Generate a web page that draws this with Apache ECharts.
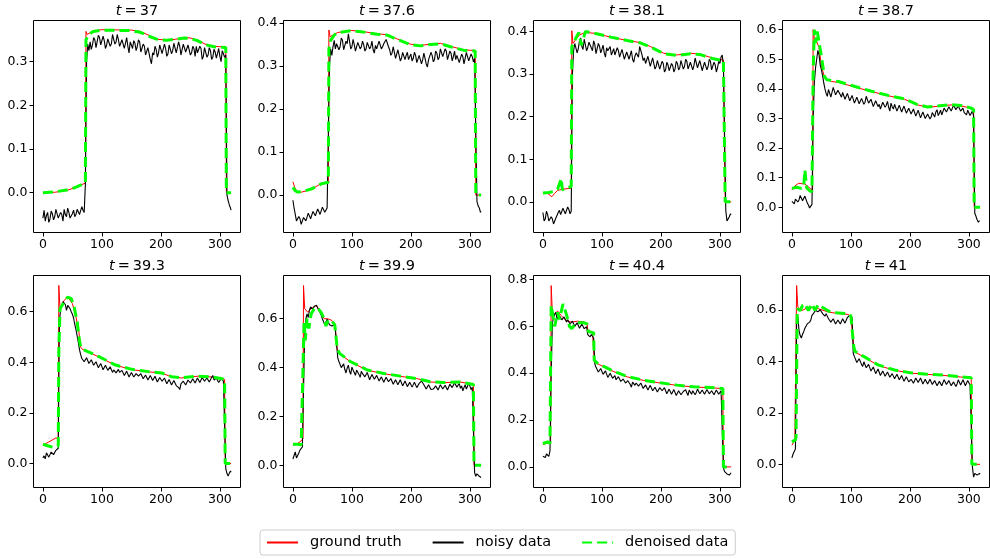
<!DOCTYPE html>
<html><head><meta charset="utf-8">
<script src="https://cdn.jsdelivr.net/npm/echarts@6/dist/echarts.min.js"></script>
<style>html,body{margin:0;padding:0;background:#fff}#c{width:990px;height:559px}</style>
</head><body><div id="c"></div>
<script>
// ---------------- data ----------------
const times = ['37', '37.6', '38.1', '38.7', '39.3', '39.9', '40.4', '41'];
const seriesNames = ['ground truth', 'noisy data', 'denoised data'];
const xTicks = [0, 100, 200, 300];
const xLimits = [-15.95, 334.95];
const yLimits = [[-0.091, 0.394], [-0.087, 0.406], [-0.072, 0.426], [-0.085, 0.631],
                 [-0.095, 0.743], [-0.091, 0.777], [-0.088, 0.817], [-0.090, 0.733]];
const yTicks = [[0, 0.1, 0.2, 0.3], [0, 0.1, 0.2, 0.3, 0.4], [0, 0.1, 0.2, 0.3, 0.4],
                [0, 0.1, 0.2, 0.3, 0.4, 0.5, 0.6], [0, 0.2, 0.4, 0.6], [0, 0.2, 0.4, 0.6],
                [0, 0.2, 0.4, 0.6, 0.8], [0, 0.2, 0.4, 0.6]];
const noisyStep = 2;   // noisy samples every 2 x-units, last one at 319
const noisyLastX = 319;

// t = 37
const truth_37 = [[0,0.000],[20,0.001],[40,0.005],[55,0.012],[65,0.018],[72,0.022],[73,0.369],[75,0.362],[80,0.366],[90,0.371],[100,0.373],[150,0.372],[165,0.369],[180,0.360],[195,0.351],[210,0.349],[225,0.351],[240,0.355],[250,0.354],[262,0.349],[275,0.340],[290,0.335],[310,0.333],[311,0.000],[319,0.000]];
const denoised_37 = [[0,0.000],[20,0.002],[40,0.006],[55,0.012],[65,0.018],[72,0.022],[73,0.350],[78,0.362],[85,0.369],[100,0.372],[150,0.371],[165,0.367],[180,0.358],[195,0.350],[210,0.349],[225,0.351],[240,0.354],[250,0.353],[262,0.348],[275,0.339],[290,0.334],[310,0.332],[311,0.000],[319,0.000]];
const noisy_37 = [
 -0.058,-0.040,-0.065,-0.052,-0.045,-0.068,-0.060,-0.042,-0.048,-0.062,-0.055,-0.038,-0.042,-0.058,-0.060,-0.045,-0.050,-0.065,-0.038,-0.050,
 -0.055,-0.035,-0.045,-0.058,-0.060,-0.048,-0.040,-0.055,-0.050,-0.038,-0.035,-0.050,-0.048,-0.032,-0.040,-0.045,0.020,0.300,0.340,0.325,
 0.345,0.328,0.338,0.355,0.350,0.332,0.335,0.360,0.355,0.338,0.342,0.358,0.348,0.330,0.338,0.352,0.352,0.335,0.340,0.362,
 0.358,0.340,0.345,0.362,0.350,0.335,0.332,0.350,0.348,0.330,0.342,0.355,0.335,0.320,0.345,0.338,0.330,0.348,0.342,0.325,
 0.335,0.350,0.345,0.322,0.325,0.340,0.335,0.315,0.318,0.332,0.330,0.305,0.295,0.320,0.315,0.335,0.328,0.310,0.320,0.338,
 0.335,0.318,0.322,0.340,0.330,0.312,0.318,0.338,0.335,0.318,0.325,0.342,0.340,0.320,0.322,0.345,0.335,0.315,0.328,0.340,
 0.342,0.322,0.325,0.338,0.335,0.315,0.320,0.335,0.330,0.312,0.335,0.320,0.318,0.335,0.330,0.305,0.312,0.332,0.328,0.310,
 0.315,0.332,0.325,0.305,0.310,0.328,0.322,0.308,0.318,0.330,0.312,0.300,0.325,0.318,0.310,0.315,-0.005,-0.018,-0.028,-0.035,
 -0.040];

// t = 37.6
const truth_376 = [[0,0.031],[3,0.018],[8,0.006],[15,0.007],[31,0.013],[48,0.027],[60,0.030],[61,0.384],[63,0.368],[70,0.374],[76,0.378],[98,0.383],[120,0.380],[143,0.375],[160,0.373],[177,0.363],[199,0.351],[216,0.348],[233,0.351],[250,0.353],[267,0.346],[289,0.338],[309,0.336],[310,0.000],[319,0.000]];
const denoised_376 = [[0,0.018],[4,0.010],[8,0.007],[15,0.008],[31,0.014],[48,0.026],[60,0.030],[61,0.340],[64,0.360],[70,0.372],[76,0.378],[98,0.382],[120,0.379],[143,0.374],[160,0.372],[177,0.362],[199,0.350],[216,0.347],[233,0.350],[250,0.352],[267,0.345],[289,0.337],[309,0.335],[310,0.000],[319,0.000]];
const noisy_376 = [
 -0.012,-0.030,-0.045,-0.060,-0.062,-0.050,-0.055,-0.068,-0.065,-0.052,-0.050,-0.060,-0.058,-0.042,-0.045,-0.055,-0.052,-0.038,-0.040,-0.048,
 -0.048,-0.032,-0.035,-0.045,-0.042,-0.028,-0.030,-0.040,-0.038,-0.030,-0.032,0.300,0.340,0.325,0.345,0.360,0.340,0.352,0.355,0.338,
 0.345,0.365,0.360,0.338,0.340,0.358,0.352,0.375,0.372,0.340,0.345,0.362,0.350,0.335,0.338,0.355,0.355,0.340,0.345,0.358,
 0.350,0.335,0.340,0.355,0.352,0.340,0.345,0.358,0.338,0.330,0.348,0.340,0.342,0.358,0.355,0.340,0.345,0.352,0.350,0.362,
 0.365,0.345,0.338,0.325,0.330,0.345,0.342,0.318,0.322,0.338,0.335,0.312,0.318,0.332,0.330,0.315,0.325,0.332,0.315,0.322,
 0.328,0.312,0.318,0.332,0.325,0.308,0.310,0.325,0.322,0.305,0.315,0.330,0.328,0.305,0.298,0.315,0.318,0.332,0.325,0.310,
 0.315,0.335,0.330,0.315,0.320,0.340,0.338,0.322,0.325,0.340,0.335,0.315,0.318,0.335,0.330,0.312,0.322,0.335,0.315,0.325,
 0.325,0.308,0.312,0.328,0.322,0.305,0.318,0.332,0.330,0.312,0.315,0.328,0.322,0.310,0.318,0.320,-0.015,-0.025,-0.030,-0.040,
 -0.038];

// t = 38.1
const truth_381 = [[0,0.020],[8,0.020],[15,0.012],[20,0.020],[25,0.027],[35,0.030],[48,0.032],[49,0.402],[51,0.372],[55,0.380],[62,0.392],[72,0.398],[87,0.396],[115,0.387],[143,0.379],[166,0.374],[182,0.365],[205,0.349],[227,0.345],[250,0.349],[267,0.347],[289,0.337],[306,0.333],[309,0.000],[319,0.000]];
const denoised_381 = [[0,0.021],[10,0.022],[20,0.025],[25,0.030],[30,0.050],[31,0.055],[33,0.028],[40,0.032],[48,0.036],[49,0.365],[52,0.372],[56,0.385],[61,0.398],[65,0.368],[70,0.390],[72,0.400],[80,0.398],[87,0.396],[115,0.387],[143,0.379],[166,0.373],[182,0.364],[205,0.348],[227,0.344],[250,0.348],[267,0.346],[289,0.336],[306,0.332],[309,0.000],[319,0.000]];
const noisy_381 = [
 -0.025,-0.045,-0.040,-0.022,-0.030,-0.045,-0.048,-0.035,-0.040,-0.052,-0.050,-0.038,-0.042,-0.025,-0.020,-0.030,-0.028,-0.015,-0.015,-0.028,
 -0.025,-0.012,-0.018,-0.028,-0.022,0.300,0.355,0.372,0.368,0.350,0.360,0.378,0.385,0.365,0.358,0.382,0.378,0.355,0.362,0.375,
 0.375,0.362,0.355,0.378,0.370,0.348,0.352,0.372,0.365,0.350,0.358,0.368,0.350,0.340,0.362,0.355,0.355,0.365,0.345,0.352,
 0.360,0.345,0.348,0.362,0.355,0.340,0.342,0.358,0.356,0.335,0.338,0.352,0.350,0.335,0.345,0.355,0.335,0.328,0.342,0.350,
 0.350,0.340,0.365,0.355,0.345,0.332,0.338,0.325,0.328,0.342,0.340,0.318,0.322,0.338,0.335,0.312,0.318,0.332,0.330,0.312,
 0.315,0.330,0.325,0.305,0.310,0.328,0.322,0.308,0.306,0.325,0.320,0.305,0.312,0.330,0.325,0.310,0.315,0.332,0.328,0.312,
 0.318,0.335,0.330,0.312,0.312,0.328,0.325,0.310,0.320,0.338,0.335,0.315,0.318,0.332,0.330,0.308,0.312,0.328,0.325,0.310,
 0.318,0.335,0.330,0.310,0.312,0.328,0.322,0.305,0.315,0.330,0.325,0.340,0.345,0.318,0.320,-0.020,-0.045,-0.040,-0.035,-0.028,
 -0.030];

// t = 38.7
const truth_387 = [[0,0.059],[5,0.072],[11,0.081],[22,0.079],[31,0.064],[35,0.059],[36,0.600],[38,0.570],[42,0.560],[46,0.540],[50,0.476],[56,0.436],[67,0.425],[79,0.422],[107,0.406],[135,0.391],[163,0.377],[191,0.365],[213,0.346],[230,0.338],[247,0.341],[270,0.346],[286,0.343],[303,0.335],[308,0.329],[309,0.000],[319,0.000]];
const denoised_387 = [[0,0.064],[8,0.068],[16,0.064],[20,0.070],[22,0.126],[25,0.066],[30,0.056],[34,0.053],[36,0.450],[38,0.600],[40,0.555],[43,0.594],[46,0.590],[50,0.510],[55,0.442],[59,0.431],[79,0.425],[107,0.408],[135,0.392],[163,0.378],[191,0.366],[213,0.347],[230,0.339],[247,0.342],[270,0.347],[286,0.344],[303,0.336],[308,0.330],[309,0.000],[319,0.000]];
const noisy_387 = [
 0.020,0.015,0.012,0.028,0.030,0.018,0.025,0.040,0.038,0.022,0.028,0.038,0.035,0.015,0.008,-0.002,0.003,0.010,0.300,0.420,
 0.470,0.500,0.530,0.515,0.480,0.465,0.445,0.420,0.400,0.385,0.375,0.398,0.395,0.372,0.378,0.405,0.402,0.380,0.385,0.395,
 0.395,0.380,0.372,0.388,0.385,0.365,0.368,0.385,0.380,0.360,0.362,0.378,0.375,0.352,0.358,0.372,0.370,0.350,0.352,0.368,
 0.368,0.348,0.355,0.375,0.372,0.352,0.350,0.365,0.362,0.340,0.345,0.360,0.358,0.340,0.348,0.332,0.335,0.355,0.352,0.338,
 0.345,0.358,0.338,0.325,0.352,0.340,0.332,0.348,0.345,0.325,0.328,0.345,0.342,0.322,0.325,0.342,0.340,0.318,0.322,0.335,
 0.335,0.315,0.318,0.332,0.328,0.308,0.312,0.328,0.325,0.302,0.305,0.322,0.318,0.300,0.295,0.315,0.310,0.298,0.305,0.320,
 0.315,0.305,0.322,0.330,0.310,0.318,0.328,0.312,0.318,0.335,0.335,0.322,0.325,0.340,0.338,0.325,0.328,0.345,0.342,0.330,
 0.330,0.342,0.338,0.325,0.325,0.335,0.320,0.315,0.312,0.328,0.325,0.310,0.315,0.325,0.308,-0.020,-0.030,-0.042,-0.050,-0.045,
 -0.048];

// t = 39.3
const truth_393 = [[0,0.072],[10,0.085],[22,0.101],[26,0.097],[27,0.704],[29,0.612],[36,0.645],[42,0.658],[50,0.632],[56,0.579],[61,0.520],[64,0.460],[67,0.451],[95,0.421],[123,0.388],[151,0.371],[179,0.362],[201,0.358],[218,0.342],[235,0.338],[263,0.345],[285,0.342],[302,0.336],[308,0.332],[309,0.000],[319,0.000]];
const denoised_393 = [[0,0.076],[8,0.070],[14,0.066],[22,0.064],[26,0.070],[27,0.450],[29,0.612],[36,0.638],[42,0.658],[48,0.652],[53,0.618],[58,0.560],[62,0.487],[64,0.460],[67,0.452],[95,0.422],[123,0.389],[151,0.372],[179,0.363],[201,0.358],[218,0.343],[235,0.339],[263,0.345],[285,0.342],[302,0.336],[308,0.332],[309,0.000],[319,0.000]];
const noisy_393 = [
 0.022,0.030,0.018,0.042,0.040,0.025,0.028,0.045,0.042,0.035,0.035,0.052,0.055,0.060,0.560,0.610,0.625,0.640,0.640,0.628,
 0.605,0.625,0.630,0.612,0.600,0.590,0.575,0.550,0.530,0.505,0.480,0.450,0.430,0.415,0.418,0.402,0.405,0.418,0.412,0.395,
 0.398,0.410,0.405,0.388,0.385,0.402,0.398,0.378,0.380,0.395,0.392,0.370,0.372,0.388,0.385,0.368,0.365,0.382,0.378,0.360,
 0.370,0.375,0.358,0.352,0.372,0.360,0.355,0.368,0.365,0.348,0.350,0.365,0.362,0.342,0.345,0.360,0.358,0.342,0.348,0.355,
 0.355,0.345,0.340,0.355,0.352,0.335,0.338,0.350,0.348,0.330,0.335,0.348,0.345,0.328,0.330,0.345,0.342,0.322,0.325,0.340,
 0.338,0.325,0.322,0.338,0.335,0.315,0.318,0.332,0.330,0.310,0.312,0.328,0.325,0.308,0.315,0.300,0.292,0.315,0.312,0.325,
 0.325,0.310,0.315,0.330,0.330,0.318,0.318,0.335,0.332,0.318,0.322,0.338,0.335,0.320,0.325,0.340,0.338,0.325,0.330,0.338,
 0.335,0.322,0.328,0.340,0.348,0.330,0.325,0.338,0.332,0.320,0.318,0.335,0.330,0.325,0.320,-0.020,-0.040,-0.050,-0.038,-0.030,
 -0.035];

// t = 39.9
const truth_399 = [[0,0.082],[8,0.089],[14,0.100],[17,0.109],[18,0.736],[20,0.641],[25,0.627],[31,0.641],[39,0.655],[45,0.634],[53,0.600],[59,0.600],[66,0.593],[71,0.580],[75,0.477],[79,0.457],[98,0.423],[126,0.389],[154,0.375],[182,0.364],[210,0.355],[233,0.341],[255,0.338],[283,0.341],[306,0.331],[307,0.000],[319,0.000]];
const denoised_399 = [[0,0.086],[8,0.086],[14,0.084],[17,0.090],[19,0.593],[21,0.511],[24,0.600],[27,0.560],[31,0.620],[36,0.640],[42,0.645],[48,0.625],[53,0.600],[56,0.570],[60,0.595],[66,0.590],[71,0.575],[75,0.480],[79,0.458],[98,0.424],[126,0.390],[154,0.376],[182,0.365],[210,0.355],[233,0.342],[255,0.339],[283,0.341],[306,0.331],[307,0.000],[319,0.000]];
const noisy_399 = [
 0.025,0.040,0.055,0.030,0.035,0.050,0.062,0.070,0.075,0.080,0.540,0.600,0.620,0.605,0.635,0.648,0.645,0.638,0.650,0.642,
 0.655,0.648,0.635,0.625,0.615,0.600,0.595,0.575,0.572,0.598,0.590,0.575,0.582,0.570,0.565,0.575,0.555,0.550,0.440,0.425,
 0.420,0.400,0.405,0.415,0.392,0.378,0.398,0.410,0.385,0.372,0.402,0.390,0.380,0.368,0.390,0.395,0.372,0.360,0.385,0.375,
 0.378,0.362,0.365,0.380,0.372,0.350,0.358,0.372,0.368,0.352,0.355,0.368,0.362,0.345,0.348,0.362,0.358,0.340,0.345,0.360,
 0.355,0.342,0.340,0.355,0.352,0.332,0.335,0.350,0.348,0.330,0.338,0.350,0.345,0.325,0.330,0.345,0.342,0.322,0.328,0.340,
 0.338,0.320,0.325,0.340,0.335,0.318,0.322,0.335,0.332,0.345,0.350,0.330,0.328,0.312,0.315,0.330,0.325,0.310,0.318,0.312,
 0.310,0.325,0.322,0.308,0.315,0.330,0.328,0.312,0.318,0.328,0.325,0.308,0.315,0.332,0.332,0.318,0.320,0.338,0.335,0.320,
 0.322,0.335,0.315,0.325,0.305,0.318,0.330,0.312,0.318,0.335,0.325,0.310,0.320,0.318,-0.030,-0.045,-0.035,-0.040,-0.045,-0.052,
 -0.050];

// t = 40.4
const truth_404 = [[0,0.095],[8,0.102],[13,0.104],[14,0.774],[16,0.660],[20,0.654],[25,0.665],[31,0.646],[39,0.625],[48,0.618],[59,0.622],[70,0.618],[75,0.612],[76,0.583],[84,0.576],[86,0.570],[87,0.455],[93,0.440],[115,0.412],[143,0.384],[171,0.369],[199,0.358],[227,0.348],[255,0.341],[284,0.338],[305,0.334],[306,0.000],[319,0.000]];
const denoised_404 = [[0,0.100],[3,0.098],[8,0.107],[12,0.100],[14,0.689],[20,0.600],[25,0.660],[28,0.630],[34,0.695],[40,0.650],[45,0.600],[49,0.590],[56,0.615],[70,0.615],[75,0.610],[77,0.578],[86,0.572],[87,0.455],[93,0.442],[115,0.414],[143,0.386],[171,0.370],[199,0.359],[227,0.349],[255,0.342],[284,0.339],[305,0.335],[306,0.000],[319,0.000]];
const noisy_404 = [
 0.045,0.038,0.040,0.055,0.052,0.045,0.068,0.400,0.610,0.640,0.650,0.660,0.632,0.625,0.645,0.650,0.628,0.620,0.640,0.632,
 0.618,0.628,0.625,0.610,0.610,0.622,0.620,0.600,0.602,0.615,0.610,0.592,0.595,0.610,0.608,0.590,0.592,0.598,0.565,0.558,
 0.555,0.565,0.562,0.550,0.440,0.425,0.418,0.405,0.405,0.420,0.412,0.395,0.392,0.410,0.405,0.382,0.385,0.400,0.398,0.378,
 0.380,0.390,0.372,0.365,0.385,0.375,0.365,0.358,0.375,0.370,0.358,0.352,0.368,0.362,0.352,0.340,0.362,0.355,0.348,0.358,
 0.355,0.345,0.342,0.358,0.352,0.335,0.338,0.350,0.348,0.328,0.335,0.348,0.345,0.325,0.330,0.340,0.342,0.320,0.325,0.338,
 0.338,0.325,0.322,0.338,0.335,0.312,0.318,0.332,0.330,0.310,0.315,0.330,0.328,0.305,0.312,0.325,0.325,0.308,0.305,0.322,
 0.322,0.330,0.315,0.305,0.328,0.320,0.310,0.325,0.325,0.308,0.318,0.332,0.330,0.312,0.315,0.328,0.325,0.310,0.318,0.330,
 0.328,0.312,0.315,0.325,0.322,0.308,0.312,0.328,0.325,0.310,0.318,0.325,0.320,-0.005,-0.020,-0.028,-0.030,-0.038,-0.035,-0.028,
 -0.025];

// t = 41
const truth_41 = [[0,0.074],[3,0.085],[5,0.095],[7,0.100],[8,0.694],[10,0.610],[17,0.597],[28,0.610],[45,0.604],[62,0.591],[79,0.585],[95,0.582],[100,0.575],[103,0.500],[105,0.455],[107,0.436],[123,0.416],[146,0.384],[174,0.365],[202,0.354],[230,0.349],[258,0.345],[286,0.339],[304,0.335],[305,0.000],[319,0.000]];
const denoised_41 = [[0,0.087],[3,0.090],[6,0.095],[7,0.105],[9,0.604],[14,0.597],[18,0.617],[22,0.623],[28,0.597],[34,0.623],[39,0.598],[45,0.620],[53,0.608],[62,0.595],[79,0.587],[97,0.584],[100,0.575],[103,0.500],[105,0.455],[107,0.438],[123,0.417],[146,0.386],[174,0.366],[202,0.355],[230,0.350],[258,0.346],[286,0.340],[304,0.336],[305,0.000],[319,0.000]];
const noisy_41 = [
 0.025,0.040,0.050,0.060,0.560,0.575,0.520,0.500,0.490,0.505,0.515,0.528,0.535,0.545,0.545,0.552,0.560,0.578,0.585,0.590,
 0.598,0.605,0.592,0.588,0.600,0.595,0.585,0.578,0.575,0.585,0.580,0.565,0.568,0.552,0.555,0.565,0.560,0.545,0.548,0.560,
 0.558,0.545,0.550,0.565,0.562,0.548,0.555,0.570,0.568,0.578,0.575,0.570,0.430,0.418,0.412,0.395,0.395,0.410,0.405,0.388,
 0.380,0.398,0.392,0.375,0.372,0.388,0.385,0.362,0.365,0.378,0.375,0.352,0.355,0.370,0.368,0.345,0.348,0.362,0.360,0.342,
 0.345,0.358,0.355,0.338,0.340,0.352,0.350,0.332,0.335,0.350,0.348,0.328,0.330,0.345,0.342,0.322,0.325,0.340,0.338,0.320,
 0.322,0.330,0.335,0.315,0.318,0.335,0.332,0.318,0.320,0.335,0.330,0.312,0.315,0.330,0.328,0.312,0.318,0.330,0.325,0.310,
 0.312,0.325,0.322,0.305,0.308,0.322,0.320,0.305,0.312,0.328,0.325,0.310,0.315,0.325,0.322,0.305,0.308,0.320,0.318,0.302,
 0.312,0.328,0.325,0.308,0.315,0.328,0.322,0.305,0.310,0.325,0.320,0.308,0.312,-0.010,-0.050,-0.035,-0.030,-0.042,-0.045,-0.035,
 -0.038];

const truths = [truth_37, truth_376, truth_381, truth_387, truth_393, truth_399, truth_404, truth_41];
const noisies = [noisy_37, noisy_376, noisy_381, noisy_387, noisy_393, noisy_399, noisy_404, noisy_41];
const denoiseds = [denoised_37, denoised_376, denoised_381, denoised_387, denoised_393, denoised_399, denoised_404, denoised_41];

// ---------------- layout / style ----------------
const FONT = 'DejaVu Sans';
const lefts = [33.5, 283.5, 533.5, 782.5];
const tops = [20.5, 275.5];
const W = 207, H = 212;
const titleY = [11, 266];

const grids = [], xAxes = [], yAxes = [], series = [], graphics = [];
times.forEach((t, i) => {
  const col = i % 4, row = Math.floor(i / 4);
  grids.push({left: lefts[col], top: tops[row], width: W, height: H, show: true,
              borderColor: '#000', borderWidth: 1, backgroundColor: 'transparent', containLabel: false});
  xAxes.push({type: 'value', gridIndex: i, min: xLimits[0], max: xLimits[1],
    axisLine: {show: false, onZero: false},
    axisTick: {show: true, length: 4, customValues: xTicks, lineStyle: {color: '#000', width: 1}},
    axisLabel: {show: true, customValues: xTicks, margin: 6, fontSize: 12.5, fontFamily: FONT, color: '#000',
                formatter: v => String(Math.round(v))},
    splitLine: {show: false}});
  yAxes.push({type: 'value', gridIndex: i, min: yLimits[i][0], max: yLimits[i][1],
    axisLine: {show: false, onZero: false},
    axisTick: {show: true, length: 4, customValues: yTicks[i], lineStyle: {color: '#000', width: 1}},
    axisLabel: {show: true, customValues: yTicks[i], margin: 6, fontSize: 12.5, fontFamily: FONT, color: '#000',
                formatter: v => v.toFixed(1)},
    splitLine: {show: false}});
  const noisyData = noisies[i].map((y, k) => [Math.min(k * noisyStep, noisyLastX), y]);
  series.push({type: 'line', name: seriesNames[0], xAxisIndex: i, yAxisIndex: i, data: truths[i],
    symbol: 'none', showSymbol: false, silent: true, z: 2,
    lineStyle: {color: '#ff0000', width: 1}, itemStyle: {color: '#ff0000'}});
  series.push({type: 'line', name: seriesNames[1], xAxisIndex: i, yAxisIndex: i, data: noisyData,
    symbol: 'none', showSymbol: false, silent: true, z: 3,
    lineStyle: {color: '#000000', width: 1.1}, itemStyle: {color: '#000000'}});
  series.push({type: 'line', name: seriesNames[2], xAxisIndex: i, yAxisIndex: i, data: denoiseds[i],
    symbol: 'none', showSymbol: false, silent: true, z: 4,
    lineStyle: {color: '#00ff00', width: 3, type: [10, 5]}, itemStyle: {color: '#00ff00'}});
  graphics.push({type: 'text', x: lefts[col] + W / 2, y: titleY[row], silent: true,
    style: {text: '{i|t}{e|=}{n|' + t + '}', align: 'center', verticalAlign: 'middle',
      fontSize: 14.5, fontFamily: FONT, fill: '#000',
      rich: {i: {fontStyle: 'italic', fontSize: 14.5, fontFamily: FONT, fill: '#000'},
             e: {padding: [0, 3, 0, 3], fontSize: 14.5, fontFamily: FONT, fill: '#000'},
             n: {fontSize: 14.5, fontFamily: FONT, fill: '#000'}}}});
});

const chart = echarts.init(document.getElementById('c'), null, {renderer: 'canvas'});
chart.setOption({
  animation: false,
  backgroundColor: '#fff',
  grid: grids, xAxis: xAxes, yAxis: yAxes, series: series,
  graphic: graphics,
  legend: {
    data: seriesNames, left: 260, top: 530, orient: 'horizontal',
    selectedMode: false, itemWidth: 31, itemHeight: 9, itemGap: 30,
    padding: [5, 7, 5, 6],
    borderColor: '#cccccc', borderWidth: 1, borderRadius: 3, backgroundColor: '#ffffff',
    itemStyle: {opacity: 0},
    textStyle: {fontSize: 14.5, fontFamily: FONT, color: '#000', padding: [0, 0, 0, 7]}
  }
});
</script>
</body></html>
